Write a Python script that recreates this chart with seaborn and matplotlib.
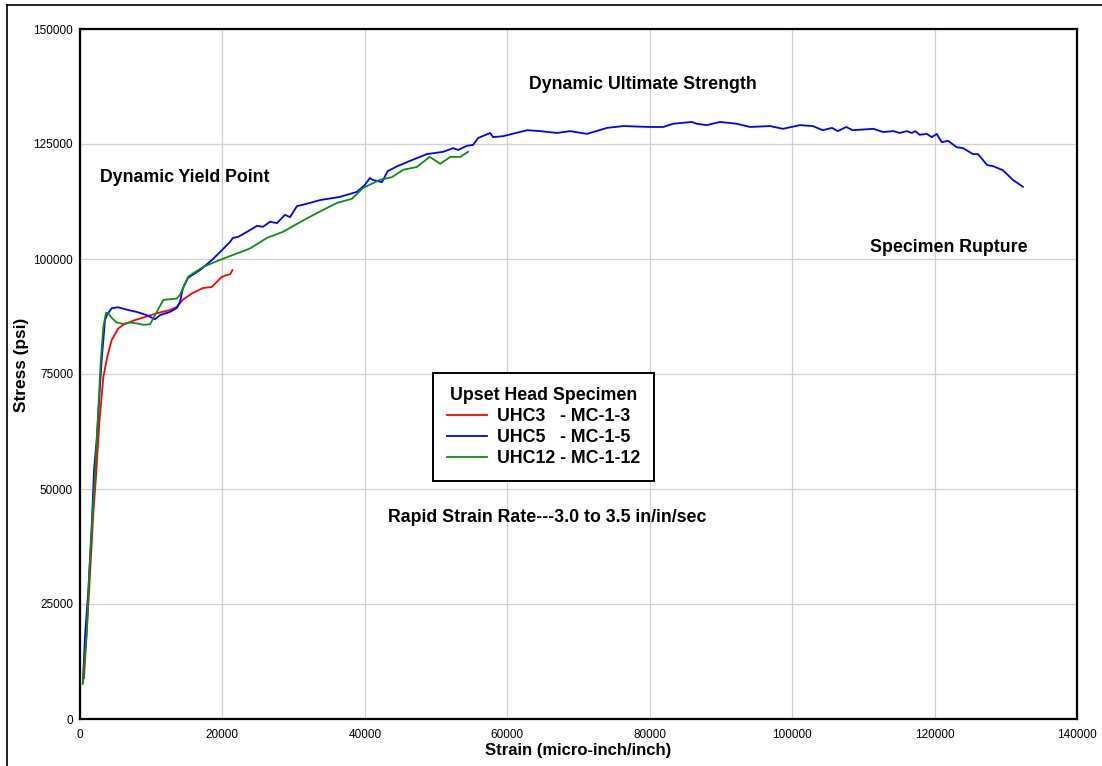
import seaborn as sns
import matplotlib.pyplot as plt
import pandas as pd
from matplotlib.lines import Line2D

# UHC3 - MC-1-3 (red)
uhc3_x = [560, 940, 1310, 1870, 2250, 2710, 3280, 3840, 4450, 5380, 6080, 7490, 9360,
          10770, 12640, 13600, 14400, 15800, 17300, 18500, 19200, 19900, 20600, 21100, 21400]
uhc3_y = [8850, 18600, 28800, 44700, 52700, 64300, 74400, 78800, 82400, 84900, 85700, 86600, 87500,
          88200, 88900, 89600, 91100, 92600, 93700, 93900, 95000, 96100, 96500, 96700, 97600]

# UHC5 - MC-1-5 (blue)
uhc5_x = [400, 700, 1170, 1640, 1970, 2340, 2710, 3040, 3510, 3840, 4450, 5380, 6780, 7960,
          9360, 10530, 11230, 12640, 13570, 14040, 14460, 15170, 16850, 18540, 19660, 21060,
          21480, 22190, 23450, 24850, 25700, 26680, 27660, 28790, 29490, 30470, 31310, 32300,
          33700, 36500, 38900, 40000, 40700, 41100, 42400, 43200, 44600, 46300, 48700, 51000,
          52400, 53100, 54300, 55200, 55900, 57600, 58000, 59400, 62800, 64600, 67000, 68800,
          71200, 74000, 76300, 80000, 81900, 83300, 85900, 86600, 88000, 89900, 92200, 94100,
          96900, 98700, 101100, 102900, 104300, 105600, 106400, 107600, 108500, 111400, 112800,
          114200, 115100, 116100, 116800, 117300, 117900, 118900, 119600, 120300, 121000, 121900,
          123100, 124000, 125400, 126100, 127400, 128200, 129600, 131000, 132400]
uhc5_y = [8000, 17900, 28000, 41800, 54100, 60700, 70000, 78000, 86700, 88000, 89300, 89500,
          88900, 88500, 87800, 86900, 87800, 88500, 89300, 90700, 93700, 95900, 97600, 99800,
          101500, 103700, 104600, 104800, 105900, 107200, 107000, 108100, 107800, 109600, 109100,
          111500, 111800, 112200, 112800, 113500, 114600, 116100, 117600, 117200, 116700, 119100,
          120200, 121300, 122800, 123300, 124100, 123700, 124600, 124800, 126300, 127400, 126500,
          126700, 128000, 127800, 127400, 127800, 127200, 128500, 128900, 128700, 128700, 129400,
          129800, 129400, 129100, 129800, 129400, 128700, 128900, 128300, 129100, 128900, 128000,
          128500, 127800, 128700, 128000, 128300, 127600, 127800, 127400, 127800, 127400, 127800,
          127000, 127200, 126500, 127200, 125400, 125700, 124300, 124100, 122800, 122800, 120400,
          120200, 119300, 117200, 115700]

# UHC12 - MC-1-12 (green)
uhc12_x = [380, 940, 1310, 1780, 2250, 2570, 2900, 3280, 3650, 3980, 4450, 5150, 6080, 7020,
           7960, 8890, 9830, 10290, 11700, 13570, 14040, 15210, 17300, 19660, 21500, 23400,
           24000, 26260, 28500, 30890, 33280, 36100, 38200, 39700, 42100, 43800, 45400, 47300,
           49100, 50600, 52000, 53400, 54500]
uhc12_y = [7600, 18700, 31700, 44800, 57000, 67200, 77400, 85300, 88300, 88200, 87200, 86200,
           85900, 86200, 86000, 85700, 85800, 87100, 91100, 91400, 92200, 96200, 98300, 99800,
           100900, 102000, 102400, 104600, 105900, 108000, 110000, 112200, 113100, 115400, 117200,
           117800, 119400, 120000, 122200, 120700, 122200, 122200, 123300]

plt.rcParams['font.family'] = ['Liberation Sans', 'DejaVu Sans']

fig = plt.figure(figsize=(11.02, 7.66), dpi=100)
ax = fig.add_axes([80 / 1102, 47 / 766, 997 / 1102, 690 / 766])

sns.lineplot(x=uhc3_x, y=uhc3_y, color='#ff0000', lw=1.3, sort=False, label='UHC3   - MC-1-3', ax=ax)
sns.lineplot(x=uhc5_x, y=uhc5_y, color='#0000ff', lw=1.3, sort=False, label='UHC5   - MC-1-5', ax=ax)
sns.lineplot(x=uhc12_x, y=uhc12_y, color='#108a10', lw=1.3, sort=False, label='UHC12 - MC-1-12', ax=ax)

ax.set_xlim(0, 140000)
ax.set_ylim(0, 150000)
ax.set_xticks(range(0, 140001, 20000))
ax.set_yticks(range(0, 150001, 25000))
ax.grid(True, color='#d0d0d0', lw=0.9)
ax.set_axisbelow(True)
ax.tick_params(length=0, labelsize=8.5)
ax.tick_params(axis='x', pad=7)
ax.tick_params(axis='y', pad=5)
for s in ax.spines.values():
    s.set_linewidth(1.6)
    s.set_color('black')

ax.set_xlabel('Strain (micro-inch/inch)', fontsize=12, fontweight='bold', labelpad=2)
ax.set_ylabel('Stress (psi)', fontsize=12.4, fontweight='bold', labelpad=3)
ax.yaxis.label.set_y(0.513)

big = 12.8
ax.text(79000, 138000, 'Dynamic Ultimate Strength', fontsize=big, fontweight='bold', ha='center', va='center')
ax.text(2800, 117700, 'Dynamic Yield Point', fontsize=big, fontweight='bold', ha='left', va='center')
ax.text(110900, 102500, 'Specimen Rupture', fontsize=big, fontweight='bold', ha='left', va='center')
ax.text(43250, 43700, 'Rapid Strain Rate---3.0 to 3.5 in/in/sec', fontsize=big, fontweight='bold',
        ha='left', va='center')

leg = ax.legend(title='Upset Head Specimen', loc='upper left', bbox_to_anchor=(0.354, 0.5014),
                borderaxespad=0, prop={'weight': 'bold', 'size': big},
                title_fontproperties={'weight': 'bold', 'size': big},
                frameon=True, fancybox=False, edgecolor='black', framealpha=1,
                handlelength=2.25, handletextpad=0.55, labelspacing=0.22, borderpad=0.8)
leg.get_frame().set_linewidth(1.4)

fig.add_artist(Line2D([7 / 1102, 7 / 1102], [0, 1 - 5 / 766], color='black', lw=1.2))
fig.add_artist(Line2D([7 / 1102, 1], [1 - 5 / 766, 1 - 5 / 766], color='black', lw=1.2))

plt.savefig('out.png', dpi=100)
